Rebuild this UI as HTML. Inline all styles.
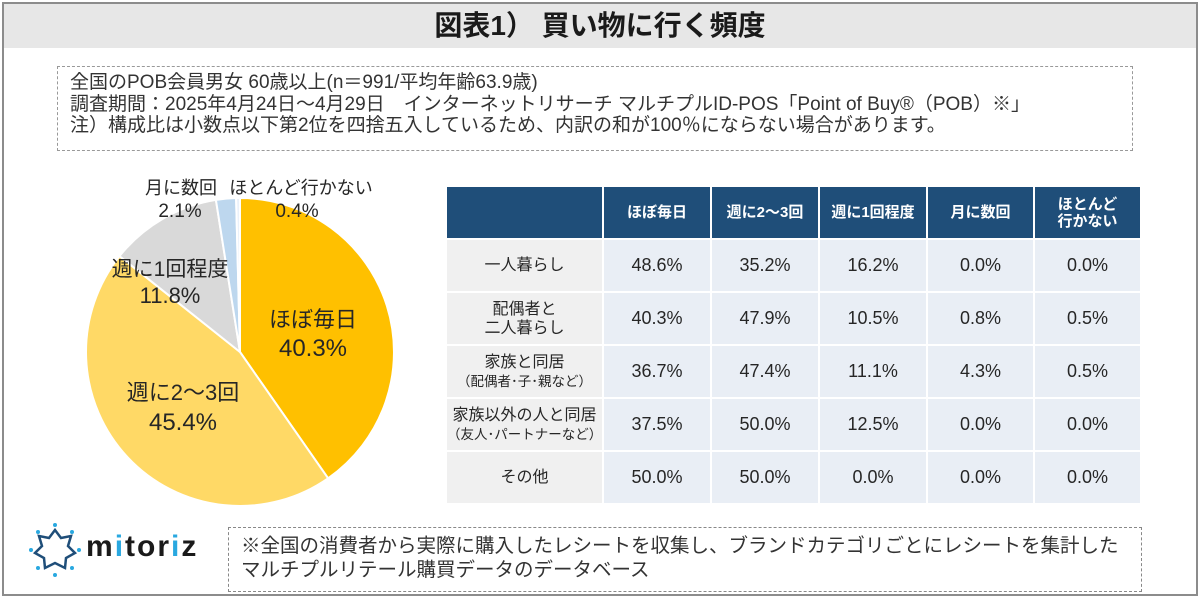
<!DOCTYPE html>
<html><head><meta charset="utf-8"><style>
*{margin:0;padding:0;box-sizing:border-box}
body{width:1200px;height:598px;background:#fff;font-family:"Liberation Sans","Noto Sans CJK JP",sans-serif;color:#262626;position:relative;overflow:hidden}
.frame{position:absolute;left:2px;top:2px;width:1196px;height:594px;border:2px solid #8c8c8c}
.title{position:absolute;left:4px;top:4px;width:1192px;height:44px;background:#e7e7e7;text-align:center;font-size:28px;font-weight:bold;line-height:44px;color:#1a1a1a}
.info{position:absolute;left:57px;top:66px;width:1076px;height:85px;border:1px dashed #999;padding:5px 12px;font-size:19px;line-height:21.5px;color:#333;white-space:nowrap}
table{position:absolute;left:445px;top:185px;border-collapse:collapse}
td,th{border:2px solid #fff;text-align:center;vertical-align:middle}
th{background:#1f4e79;color:#fff;font-size:15px;font-weight:bold;height:53px;line-height:17px}
td{background:#e9eef5;font-size:18px;height:53px;color:#262626}
td.h{background:#f0f0f0;font-size:16px;line-height:19px}
td.h small{font-size:13.5px}
.mt{position:absolute;left:86px;top:530px;font-size:30px;font-weight:bold;letter-spacing:2px;color:#1a1a1a}
.foot{position:absolute;left:228px;top:527px;width:914px;height:65px;border:1px dashed #888;padding:6px 12px;font-size:19.5px;line-height:24px;color:#333;white-space:nowrap}
</style></head><body>
<div class="frame"></div>
<div class="title">図表1） 買い物に行く頻度</div>
<div class="info">全国のPOB会員男女 60歳以上(n＝991/平均年齢63.9歳)<br>調査期間：2025年4月24日～4月29日　インターネットリサーチ マルチプルID-POS「Point of Buy®（POB）※」<br>注）構成比は小数点以下第2位を四捨五入しているため、内訳の和が100％にならない場合があります。</div>
<svg width="1200" height="598" style="position:absolute;left:0;top:0">
<g stroke="#fff" stroke-width="2">
<path d="M240,352 L240,198 A154,154 0 0 1 328.1,478.3 Z" fill="#ffc000"/>
<path d="M240,352 L328.1,478.3 A154,154 0 0 1 119.5,256.1 Z" fill="#ffd966"/>
<path d="M240,352 L119.5,256.1 A154,154 0 0 1 215.9,199.9 Z" fill="#d9d9d9"/>
<path d="M240,352 L215.9,199.9 A154,154 0 0 1 236.1,198 Z" fill="#bdd7ee"/>
<path d="M240,352 L236.1,198 A154,154 0 0 1 240,198 Z" fill="#eaf1fa"/>
</g>
<g font-family="Liberation Sans,Noto Sans CJK JP,sans-serif" fill="#262626" text-anchor="middle">
<text x="181" y="194" font-size="18">月に数回</text><text x="180" y="217" font-size="19">2.1%</text>
<text x="301" y="194" font-size="18">ほとんど行かない</text><text x="297" y="217" font-size="19">0.4%</text>
<text x="170" y="276" font-size="21">週に1回程度</text><text x="170" y="303" font-size="22">11.8%</text>
<text x="313" y="327" font-size="22">ほぼ毎日</text><text x="313" y="356" font-size="24">40.3%</text>
<text x="183" y="400" font-size="22">週に2～3回</text><text x="183" y="430" font-size="24">45.4%</text>
</g>
<g transform="translate(55,550)">
<path d="M0,-20 L6,-12 16,-14 13,-4 20,3 11,8 10,18 0,13 -10,18 -11,8 -20,3 -13,-4 -16,-14 -6,-12 Z" fill="none" stroke="#1f4e79" stroke-width="2.5"/>
<g fill="#29a8e0"><circle cx="0" cy="-25" r="2"/><circle cx="24" cy="0" r="2"/><circle cx="-24" cy="0" r="2"/><circle cx="0" cy="25" r="2"/><circle cx="-17" cy="-18" r="2"/><circle cx="17" cy="-18" r="2"/><circle cx="-17" cy="18" r="2"/><circle cx="17" cy="18" r="2"/></g>
</g>
</svg>
<div class="mt">m<span style="color:#29a8e0">i</span>tor<span style="color:#29a8e0">i</span>z</div>
<table>
<tr><th style="width:157px"></th><th style="width:108px">ほぼ毎日</th><th style="width:108px">週に2～3回</th><th style="width:108px">週に1回程度</th><th style="width:107px">月に数回</th><th style="width:107px">ほとんど<br>行かない</th></tr>
<tr><td class="h">一人暮らし</td><td>48.6%</td><td>35.2%</td><td>16.2%</td><td>0.0%</td><td>0.0%</td></tr>
<tr><td class="h">配偶者と<br>二人暮らし</td><td>40.3%</td><td>47.9%</td><td>10.5%</td><td>0.8%</td><td>0.5%</td></tr>
<tr><td class="h">家族と同居<br><small>（配偶者･子･親など）</small></td><td>36.7%</td><td>47.4%</td><td>11.1%</td><td>4.3%</td><td>0.5%</td></tr>
<tr><td class="h">家族以外の人と同居<br><small>（友人･パートナーなど）</small></td><td>37.5%</td><td>50.0%</td><td>12.5%</td><td>0.0%</td><td>0.0%</td></tr>
<tr><td class="h">その他</td><td>50.0%</td><td>50.0%</td><td>0.0%</td><td>0.0%</td><td>0.0%</td></tr>
</table>
<div class="foot">※全国の消費者から実際に購入したレシートを収集し、ブランドカテゴリごとにレシートを集計した<br>マルチプルリテール購買データのデータベース</div>
</body></html>
